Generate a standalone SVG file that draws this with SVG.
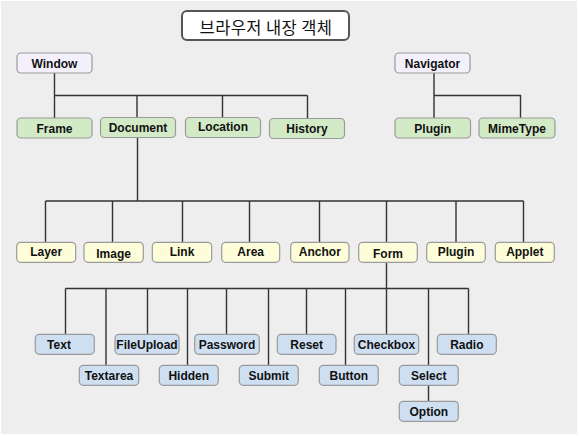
<svg xmlns="http://www.w3.org/2000/svg" width="579" height="436" viewBox="0 0 579 436">
<style>
.n rect{stroke:#9a9a9a;stroke-width:1.2}
.p rect{fill:#f4f0fb}
.g rect{fill:#d2eac6}
.y rect{fill:#fdfed9}
.b rect{fill:#cfdff2}
text{font-family:"Liberation Sans",Arial,sans-serif;font-weight:bold;font-size:12px;fill:#111;text-anchor:middle}
.title text{font-family:"Noto Sans CJK KR","Noto Sans",sans-serif;font-weight:normal;font-size:16.5px;letter-spacing:0.4px}
#connectors path{fill:none;stroke:#333;stroke-width:1.4}
</style>
<rect x="0" y="0" width="579" height="436" fill="#ffffff"/>
<rect x="1" y="1" width="576" height="433" fill="#eeeeee"/>
<g id="title" class="title">
<rect x="182" y="11" width="167" height="29" rx="5" fill="#ffffff" stroke="#555" stroke-width="2"/>
<text x="266" y="33.5">브라우저 내장 객체</text>
</g>
<g id="connectors">
<path d="M54.5 73V118M54.5 95.5H307.5M137 95.5V118M222.5 95.5V118M307.5 95.5V118"/>
<path d="M434 73V118M434 95.5H520.5V118"/>
<path d="M137.5 138V201M45.5 201H523.5M45.5 201V242M112.5 201V242M182.5 201V242M249.5 201V242M319.5 201V242M386.5 201V242M456 201V242M523.5 201V242"/>
<path d="M386.5 262V334M65.5 288.5H468.5M65.5 288.5V334M147.5 288.5V334M226.5 288.5V334M306.5 288.5V334M468.5 288.5V334M106 288.5V365M187.5 288.5V365M268.5 288.5V365M345.5 288.5V365M428.5 288.5V401"/>
</g>
<g id="window" class="n p"><rect x="17" y="53" width="75" height="20" rx="4"/><text x="54.5" y="67.5">Window</text></g>
<g id="navigator" class="n p"><rect x="395" y="53" width="75" height="20" rx="4"/><text x="432.5" y="67.5">Navigator</text></g>
<g id="frame" class="n g"><rect x="17" y="118" width="75" height="20" rx="4"/><text x="54.5" y="132.5">Frame</text></g>
<g id="document" class="n g"><rect x="100.5" y="117.5" width="75" height="20" rx="4"/><text x="138" y="132">Document</text></g>
<g id="location" class="n g"><rect x="185.5" y="117.5" width="75" height="20" rx="4"/><text x="223" y="131">Location</text></g>
<g id="history" class="n g"><rect x="269.5" y="118.5" width="75" height="20" rx="4"/><text x="307" y="133">History</text></g>
<g id="plugin-nav" class="n g"><rect x="395" y="118" width="75.5" height="20" rx="4"/><text x="432.7" y="132.5">Plugin</text></g>
<g id="mimetype" class="n g"><rect x="479" y="118" width="76" height="20" rx="4"/><text x="517" y="132.5">MimeType</text></g>
<g id="layer" class="n y"><rect x="16.7" y="242.3" width="59" height="20" rx="4"/><text x="46.2" y="256.3">Layer</text></g>
<g id="image" class="n y"><rect x="84" y="242.3" width="59.3" height="20" rx="4"/><text x="113.6" y="257.8">Image</text></g>
<g id="link" class="n y"><rect x="152.3" y="242.3" width="59.4" height="20" rx="4"/><text x="182" y="256">Link</text></g>
<g id="area" class="n y"><rect x="221.7" y="242.3" width="58" height="20" rx="4"/><text x="250.7" y="256.3">Area</text></g>
<g id="anchor" class="n y"><rect x="290.7" y="242.3" width="58.3" height="20" rx="4"/><text x="319.8" y="256">Anchor</text></g>
<g id="form" class="n y"><rect x="358.7" y="242.3" width="58.6" height="20" rx="4"/><text x="388" y="257.5">Form</text></g>
<g id="plugin-doc" class="n y"><rect x="426.7" y="242.3" width="58.6" height="20" rx="4"/><text x="456" y="256">Plugin</text></g>
<g id="applet" class="n y"><rect x="495.3" y="242.3" width="59" height="20" rx="4"/><text x="524.8" y="256.3">Applet</text></g>
<g id="text" class="n b"><rect x="35.3" y="334.3" width="59" height="20" rx="4"/><text x="59" y="348.5">Text</text></g>
<g id="fileupload" class="n b"><rect x="115" y="334.3" width="64" height="20" rx="4"/><text x="147" y="348.5">FileUpload</text></g>
<g id="password" class="n b"><rect x="194.7" y="334.3" width="64.6" height="20" rx="4"/><text x="227" y="348.5">Password</text></g>
<g id="reset" class="n b"><rect x="277.3" y="334.3" width="58.7" height="20" rx="4"/><text x="306.7" y="348.5">Reset</text></g>
<g id="checkbox" class="n b"><rect x="354.3" y="334.3" width="64.4" height="20" rx="4"/><text x="386.5" y="348.5">Checkbox</text></g>
<g id="radio" class="n b"><rect x="437.3" y="334.3" width="59" height="20" rx="4"/><text x="466.8" y="348.5">Radio</text></g>
<g id="textarea" class="n b"><rect x="79.3" y="365.3" width="59.4" height="20" rx="4"/><text x="109" y="379.5">Textarea</text></g>
<g id="hidden" class="n b"><rect x="159.3" y="365.3" width="59" height="20" rx="4"/><text x="188.8" y="379.5">Hidden</text></g>
<g id="submit" class="n b"><rect x="239.3" y="365.3" width="59" height="20" rx="4"/><text x="268.8" y="379.5">Submit</text></g>
<g id="button" class="n b"><rect x="319.3" y="365.3" width="59" height="20" rx="4"/><text x="348.8" y="379.5">Button</text></g>
<g id="select" class="n b"><rect x="399.3" y="365.3" width="59" height="20" rx="4"/><text x="428.8" y="379.5">Select</text></g>
<g id="option" class="n b"><rect x="399.3" y="401.3" width="59" height="20" rx="4"/><text x="428.8" y="415.5">Option</text></g>
</svg>
